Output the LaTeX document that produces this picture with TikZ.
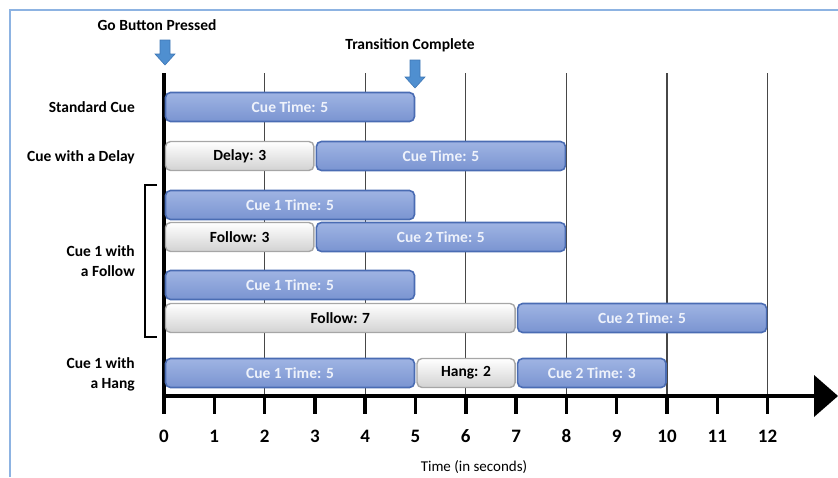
\documentclass[tikz,border=0pt]{standalone}
\usepackage{fontspec}
\setmainfont{Carlito}
\definecolor{frameBlue}{HTML}{8DB3E2}
\definecolor{barBlueD}{HTML}{4A6CB3}
\definecolor{barBlueT}{HTML}{9FB4E3}
\definecolor{barBlueB}{HTML}{7A94D1}
\definecolor{barTxt}{HTML}{EEF2FB}
\definecolor{barGrayD}{HTML}{A6A6A6}
\definecolor{barGrayB}{HTML}{D2D2D2}
\definecolor{arrowBlue}{HTML}{4F8FD0}
\definecolor{arrowBlueD}{HTML}{3F77B5}
\newcommand{\cuebar}[6]{%
  \pgfmathsetmacro{\cbxa}{164+50.3*#2+1.5}%
  \pgfmathsetmacro{\cbxb}{164+50.3*#3-1}%
  \pgfmathsetmacro{\cbw}{\cbxb-\cbxa}%
  \pgfmathsetmacro{\cbxm}{(\cbxa+\cbxb)/2}%
  \node[#5, minimum width=\cbw pt] (#1) at (\cbxm,#4) {#6};%
}
\begin{document}
\begin{tikzpicture}[x=1pt,y=-1pt,
  lab/.style={font=\fontsize{15.5}{20}\selectfont\bfseries, align=right, anchor=east, inner sep=0pt},
  title/.style={font=\fontsize{15.5}{18}\selectfont\bfseries, inner sep=0pt},
  bluebar/.style={draw=barBlueD, line width=1.6pt, rounded corners=5pt, top color=barBlueT, bottom color=barBlueB, text=barTxt, font=\fontsize{15.5}{18}\selectfont\bfseries, minimum height=29pt, inner sep=0pt},
  graybar/.style={draw=barGrayD, line width=1.4pt, rounded corners=5pt, top color=white, bottom color=barGrayB, text=black, font=\fontsize{15.5}{18}\selectfont\bfseries, minimum height=29pt, inner sep=0pt},
  gridline/.style={line width=1.2pt, draw=black!72},
  axisline/.style={line width=3.5pt, draw=black},
  tickline/.style={line width=3.5pt, draw=black},
  ticklab/.style={font=\fontsize{19}{20}\selectfont\bfseries, inner sep=0pt},
  pointer/.style={fill=arrowBlue, draw=arrowBlueD, line width=0.6pt}
]
\useasboundingbox (0,0) rectangle (838,477);
% frame
\draw[frameBlue, line width=1.5pt] (10,477) -- (10,10) -- (838,10);
% grid lines
\foreach \t in {2,4,...,12}{
  \draw[gridline] ({164+50.3*\t},73) -- ({164+50.3*\t},396);
}
% ticks and labels
\foreach \t in {0,...,12}{
  \draw[tickline] ({164+50.3*\t},396) -- ({164+50.3*\t},414);
  \node[ticklab] (tl\t) at ({164+50.3*\t},436) {\t};
}
% axes
\draw[axisline] (164,73) -- (164,396);
\draw[axisline] (162.3,396) -- (816,396);
\coordinate (axtip) at (838,396);
\fill (axtip) -- ++(-24,-21) -- ++(0,42) -- cycle;
\node[font=\fontsize{15}{18}\selectfont, inner sep=0pt] (xlab) at (474,467) {Time (in seconds)};
% row labels
\node[lab] (l1) at (135,107) {Standard Cue};
\node[lab] (l2) at (135,157) {Cue with a Delay};
\node[lab] (l3) at (135,261) {Cue 1 with\\a Follow};
\node[lab] (l4) at (135,374) {Cue 1 with\\a Hang};
% bracket
\draw[line width=1.5pt] (157,185) -- (145,185) -- (145,337) -- (157,337);
% bars
\cuebar{b1}{0}{5}{107}{bluebar}{Cue Time: 5}
\cuebar{b2a}{0}{3}{156}{graybar}{Delay: 3}
\cuebar{b2b}{3}{8}{156}{bluebar}{Cue Time: 5}
\cuebar{b3}{0}{5}{205}{bluebar}{Cue 1 Time: 5}
\cuebar{b4a}{0}{3}{237}{graybar}{Follow: 3}
\cuebar{b4b}{3}{8}{237}{bluebar}{Cue 2 Time: 5}
\cuebar{b5}{0}{5}{285}{bluebar}{Cue 1 Time: 5}
\cuebar{b6a}{0}{7}{318}{graybar}{Follow: 7}
\cuebar{b6b}{7}{12}{318}{bluebar}{Cue 2 Time: 5}
\cuebar{b7a}{0}{5}{373}{bluebar}{Cue 1 Time: 5}
\cuebar{b7b}{5}{7}{373}{graybar}{Hang: 2}
\cuebar{b7c}{7}{10}{373}{bluebar}{Cue 2 Time: 3}
% markers
\node[title] (go) at (157,25) {Go Button Pressed};
\coordinate (gotip) at (165,65);
\draw[pointer] (gotip) -- ++(-10,-11) -- ++(5,0) -- ++(0,-14) -- ++(10,0) -- ++(0,14) -- ++(5,0) -- cycle;
\node[title] (tc) at (410,45) {Transition Complete};
\coordinate (tctip) at (415,88);
\draw[pointer] (tctip) -- ++(-10,-11) -- ++(5,0) -- ++(0,-17) -- ++(10,0) -- ++(0,17) -- ++(5,0) -- cycle;
\end{tikzpicture}
\end{document}
